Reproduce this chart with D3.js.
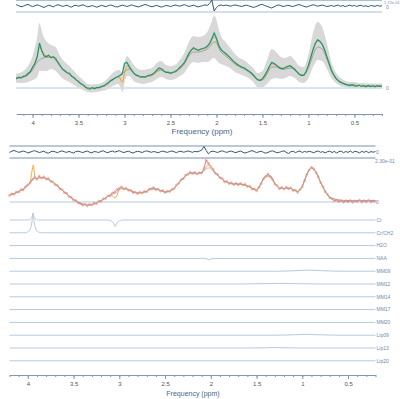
<!DOCTYPE html>
<html>
<head>
<meta charset="utf-8">
<script src="https://cdn.jsdelivr.net/npm/d3@7/dist/d3.min.js"></script>
<style>
  body { margin: 0; background: #fff; }
  svg { display: block; font-family: "Liberation Sans", Arial, sans-serif; }
</style>
</head>
<body>
<div id="chart"></div>
<script>
const width = 400,
    height = 399;

// measured spectra + residuals, 0.025 ppm grid
const ppm = [
  4.2, 4.175, 4.15, 4.125, 4.1, 4.075, 4.05, 4.025, 4.0, 3.975,
  3.95, 3.925, 3.9, 3.875, 3.85, 3.825, 3.8, 3.775, 3.75, 3.725,
  3.7, 3.675, 3.65, 3.625, 3.6, 3.575, 3.55, 3.525, 3.5, 3.475,
  3.45, 3.425, 3.4, 3.375, 3.35, 3.325, 3.3, 3.275, 3.25, 3.225,
  3.2, 3.175, 3.15, 3.125, 3.1, 3.075, 3.05, 3.025, 3.0, 2.975,
  2.95, 2.925, 2.9, 2.875, 2.85, 2.825, 2.8, 2.775, 2.75, 2.725,
  2.7, 2.675, 2.65, 2.625, 2.6, 2.575, 2.55, 2.525, 2.5, 2.475,
  2.45, 2.425, 2.4, 2.375, 2.35, 2.325, 2.3, 2.275, 2.25, 2.225,
  2.2, 2.175, 2.15, 2.125, 2.1, 2.075, 2.05, 2.025, 2.0, 1.975,
  1.95, 1.925, 1.9, 1.875, 1.85, 1.825, 1.8, 1.775, 1.75, 1.725,
  1.7, 1.675, 1.65, 1.625, 1.6, 1.575, 1.55, 1.525, 1.5, 1.475,
  1.45, 1.425, 1.4, 1.375, 1.35, 1.325, 1.3, 1.275, 1.25, 1.225,
  1.2, 1.175, 1.15, 1.125, 1.1, 1.075, 1.05, 1.025, 1.0, 0.975,
  0.95, 0.925, 0.9, 0.875, 0.85, 0.825, 0.8, 0.775, 0.75, 0.725,
  0.7, 0.675, 0.65, 0.625, 0.6, 0.575, 0.55, 0.525, 0.5, 0.475,
  0.45, 0.425, 0.4, 0.375, 0.35, 0.325, 0.3, 0.275, 0.25, 0.225,
  0.2
];

const dataTop = [
  10.5, 9.5, 10.8, 10.2, 11.6, 12.1, 14.5, 16.2, 20.8, 24.5,
  31.0, 45.0, 37.5, 32.0, 31.5, 32.8, 30.2, 31.4, 29.6, 25.8,
  22.4, 18.9, 17.3, 15.2, 14.6, 11.8, 10.4, 8.1, 6.5, 4.2,
  3.1, 0.8, -0.5, -1.2, 0.4, -0.8, 0.6, 0.2, 1.5, 2.1,
  3.8, 5.2, 7.4, 8.6, 10.3, 11.2, 12.5, 14.0, 24.5, 25.8,
  21.6, 18.2, 14.8, 12.9, 12.1, 10.8, 11.4, 11.0, 12.3, 12.8,
  13.6, 15.4, 17.8, 20.1, 19.2, 17.0, 15.6, 15.9, 14.7, 15.8,
  16.4, 18.1, 20.5, 22.6, 25.3, 29.8, 34.6, 37.9, 40.2, 39.1,
  37.6, 38.8, 39.5, 40.3, 41.8, 44.6, 49.5, 55.0, 49.8, 42.5,
  38.6, 36.2, 34.5, 32.4, 30.1, 27.6, 25.4, 23.8, 22.2, 21.0,
  20.3, 18.6, 17.1, 15.3, 13.2, 10.4, 8.2, 7.5, 9.4, 12.6,
  16.8, 21.5, 25.4, 24.6, 22.8, 21.1, 19.6, 19.2, 20.4, 21.8,
  22.3, 20.6, 18.7, 16.2, 13.8, 12.5, 12.9, 16.4, 22.6, 30.5,
  38.4, 44.8, 48.1, 46.9, 43.5, 38.2, 31.4, 24.6, 17.8, 13.2,
  9.6, 7.4, 5.6, 4.8, 3.6, 3.1, 2.4, 3.3, 2.2, 1.8,
  2.9, 1.6, 2.4, 1.2, 2.6, 1.5, 2.2, 1.1, 2.4, 1.7,
  2.0
];

const residTop = [
  0.5, 1.2, 0.3, -0.8, -0.2, 0.9, 1.6, 0.4, -0.6, 0.2,
  1.1, 0.5, -0.7, -1.4, -0.3, 0.8, 0.1, -0.9, 0.4, 1.3,
  0.6, -0.4, 0.2, 0.9, -0.5, -1.1, 0.3, 0.7, -0.2, 0.6,
  1.2, 0.1, -0.8, -0.3, 0.5, -0.4, -1.2, -0.2, 0.6, 0.0,
  -0.7, 0.4, 1.0, 0.2, -0.6, -1.0, 0.1, 0.8, 0.3, -0.5,
  0.2, 1.1, 0.4, -0.3, -0.9, -0.1, 0.7, 1.5, 0.8, -0.2,
  -0.8, 0.0, 0.6, -0.3, -1.1, -0.4, 0.5, 0.2, -0.6, 0.3,
  1.0, 0.4, -0.2, 0.6, 1.3, 0.5, -0.4, 0.1, 0.8, -0.1,
  -0.9, -0.3, 0.4, 1.2, 0.5, 2.5, 6.0, -5.0, -1.5, 0.6,
  1.0, 0.3, 0.9, 0.5, -0.2, 0.4, 1.1, 0.6, 0.0, -0.5,
  0.3, 0.8, 0.2, -0.6, -1.4, -0.8, 0.2, 1.2, 1.6, 0.5,
  -0.4, -1.2, -2.0, -0.9, 0.4, 1.1, 0.3, -0.5, 0.0, 0.7,
  0.2, -0.6, 0.1, 0.9, 1.4, 0.6, -0.3, -1.0, -0.4, 0.5,
  1.2, 0.7, -0.2, 0.4, 0.9, 0.3, -0.5, -0.1, 0.6, -0.4,
  0.3, 0.8, -0.3, 0.5, -0.6, 0.2, 0.9, -0.2, 0.6, -0.5,
  0.4, 0.7, -0.4, 0.3, -0.7, 0.5, 0.1, -0.3, 0.6, -0.2,
  0.3
];

const dataBot = [
  6.5, 8.2, 7.6, 10.1, 9.8, 12.5, 12.0, 15.3, 17.2, 19.0,
  22.4, 24.8, 22.6, 25.9, 23.8, 25.2, 22.9, 23.4, 20.6, 20.1,
  17.2, 16.5, 13.1, 12.4, 9.3, 8.8, 5.4, 4.9, 1.8, 1.5,
  -0.9, -1.6, -3.2, -2.1, -3.9, -2.4, -3.1, -1.0, -1.8, 0.9,
  0.6, 3.2, 3.5, 6.1, 6.2, 9.0, 9.8, 12.4, 13.6, 15.1,
  13.0, 13.9, 11.6, 11.5, 9.3, 9.8, 8.4, 9.9, 9.0, 10.6,
  10.2, 12.8, 13.2, 14.5, 12.3, 12.9, 10.8, 11.6, 9.5, 10.8,
  10.4, 12.5, 13.4, 17.1, 18.6, 22.4, 23.3, 27.0, 27.6, 29.8,
  28.4, 29.6, 27.9, 29.3, 29.0, 33.5, 42.0, 38.6, 35.2, 33.1,
  28.7, 27.5, 24.2, 23.4, 20.1, 20.6, 18.2, 19.3, 17.4, 18.8,
  17.1, 18.6, 16.9, 17.8, 15.4, 15.9, 12.8, 13.1, 11.2, 14.6,
  18.3, 23.0, 25.4, 28.1, 25.2, 22.3, 17.8, 16.4, 13.2, 14.6,
  12.8, 14.9, 13.1, 14.2, 11.4, 11.8, 9.6, 12.4, 15.2, 21.3,
  27.4, 32.1, 34.6, 33.2, 29.5, 25.1, 19.4, 15.2, 10.3, 7.6,
  4.1, 3.3, 1.2, 1.8, 0.4, 1.5, -0.2, 1.3, 0.1, 1.6,
  -0.3, 1.2, 0.5, 1.8, -0.1, 1.4, 0.2, 1.7, 0.0, 1.1,
  0.6
];

const residBot = [
  -0.4, 0.8, 1.5, 0.6, -0.3, 0.2, 1.0, 0.3, -0.9, -0.2,
  0.7, 1.3, 0.4, -0.5, 0.1, 0.9, -0.6, -1.2, 0.2, 0.8,
  0.1, -0.7, 0.5, 1.1, 0.2, -0.4, 0.6, -0.3, -1.0, 0.4,
  0.9, 0.2, -0.6, 0.3, 1.0, -0.2, -0.8, 0.5, 0.1, -0.5,
  0.6, 1.2, 0.0, -0.7, 0.4, 0.9, -0.1, 0.6, 1.3, 0.2,
  -0.6, 0.3, 0.8, -0.2, -1.1, 0.1, 0.7, 0.2, -0.5, 0.6,
  1.1, 0.4, -0.3, 0.5, 0.0, -0.8, 0.3, 0.9, 0.2, -0.4,
  0.5, 1.0, 0.2, -0.6, 0.4, 0.8, -0.2, 0.3, 1.1, 0.4,
  -0.3, 0.6, 0.2, 0.9, 1.8, 5.5, 1.5, -1.8, 0.4, 0.8,
  0.2, -0.5, 0.6, 1.2, 0.3, -0.4, 0.5, 0.9, 0.0, -0.7,
  0.4, 0.9, -0.2, -1.0, -0.3, 0.6, 1.4, 0.5, -0.6, 0.2,
  0.8, -0.3, -1.2, -0.4, 0.7, 1.1, 0.2, -0.8, -0.2, 0.5,
  1.2, -0.4, -1.5, 0.3, 0.8, -0.6, 0.4, 1.0, -0.5, 0.6,
  -0.2, 0.7, 0.1, -0.8, 0.5, 1.0, -0.3, 0.4, -0.9, 0.3,
  0.8, -0.5, 0.6, -1.0, 0.4, 0.9, -0.7, 0.5, -0.4, 1.0,
  -0.6, 0.7, 0.2, -0.9, 0.6, -0.3, 0.8, -0.7, 0.4, -0.2,
  0.5
];

// fitted curves, coarser grid (denser near the sharp peaks)
const ppmFit = [
  4.2, 4.15, 4.1, 4.05, 4.0,
  3.975, 3.95, 3.94, 3.925, 3.91, 3.9,
  3.85, 3.8, 3.75, 3.7, 3.65, 3.6, 3.55, 3.5, 3.45, 3.4, 3.35, 3.3, 3.25, 3.2, 3.15, 3.1,
  3.075, 3.05, 3.035, 3.02, 3.0, 2.975, 2.95,
  2.9, 2.85, 2.8, 2.75, 2.7, 2.65, 2.6, 2.55, 2.5, 2.45, 2.4, 2.35, 2.3, 2.25, 2.2, 2.15, 2.1,
  2.075, 2.05, 2.03, 2.01, 2.0, 1.975, 1.95,
  1.9, 1.85, 1.8, 1.75, 1.7, 1.65, 1.6, 1.55, 1.5, 1.45,
  1.4, 1.35, 1.3, 1.25, 1.2, 1.15, 1.1, 1.05, 1.0, 0.95,
  0.9, 0.85, 0.8, 0.75, 0.7, 0.65, 0.6, 0.55, 0.5, 0.45,
  0.4, 0.35, 0.3, 0.25, 0.2
];

const fitTop = [
  10, 10, 11, 14, 20,
  25, 31, 36, 41, 39, 37,
  32, 31, 29, 22, 17, 14, 10, 6, 3, 0, -0.5, 0, 1, 3, 7, 10,
  11, 10, 7, 6, 15, 22, 21,
  15, 12, 11, 12, 13, 17, 19, 16, 15, 16, 20, 25, 34, 39, 38, 39, 41,
  44, 48, 51, 50, 48, 42, 38,
  34, 30, 25, 22, 20, 17, 13, 8, 9, 16,
  24, 23, 20, 20, 22, 19, 14, 13, 22, 38,
  47, 44, 32, 18, 10, 6, 4, 3, 3, 2.5,
  2.5, 2, 2, 2, 2
];

const grayTop = [
  10, 10, 11, 13, 18,
  22, 26, 27, 28, 29, 29.5,
  30.5, 31, 28, 22, 17, 14, 10, 6, 3, 0.5, 0, 0.5, 1.5, 3.5, 7, 10,
  11.5, 13, 14, 15, 16.5, 18, 19,
  15, 12, 11, 11.5, 12.5, 16, 18, 16, 15, 16, 19, 24, 32, 36, 36, 37, 39,
  41, 44, 46, 46, 45, 40, 36,
  32, 28, 24, 21, 19, 16, 12, 8, 8, 14,
  21, 21, 19, 19, 20, 18, 14, 13, 20, 33,
  41, 39, 29, 17, 9, 5.5, 4, 3, 3, 2.5,
  2.5, 2, 2, 2, 2
];

// half width of the grey uncertainty band around fitTop
const bandTop = [
  4, 5, 6, 8, 12,
  16, 20, 23, 24, 22, 20,
  15, 12, 12, 10, 9, 8, 7, 6, 5, 4, 4, 4, 4, 5, 6, 7,
  7, 8, 9, 10, 10, 10, 9,
  8, 7, 7, 7, 7, 8, 8, 7, 7, 7, 8, 10, 12, 13, 13, 13, 15,
  17, 19, 21, 21, 20, 17, 14,
  12, 10, 9, 8, 8, 7, 7, 7, 8, 12,
  15, 13, 11, 10, 10, 9, 8, 8, 12, 17,
  19, 17, 13, 8, 5, 4, 3, 3, 3, 2.5,
  2.5, 2.5, 2.5, 2.5, 2.5
];

const fitBot = [
  7, 8.5, 10.5, 13, 16.5,
  20, 33, 37, 27, 23, 23.5,
  24.5, 23.5, 21.5, 18, 14, 10, 6, 2.5, 0, -2, -3, -2.5, -1, 1.5, 4, 7,
  6, 4, 5, 8, 13, 14, 13.5,
  12.5, 10.5, 9, 9.5, 10.5, 13, 13, 11.5, 10, 11, 14, 19, 24, 28, 29, 28.5, 29.5,
  32, 35, 37, 36.5, 35.5, 32, 29,
  25, 21, 19, 18, 18, 17.5, 16, 14, 12, 19,
  26, 26, 19, 14, 13.5, 14, 12.5, 10.5, 16, 28,
  34, 30, 20, 11, 5, 3, 2, 1.5, 1.5, 1.5,
  1.5, 1.5, 1.5, 1.5, 1.5
];

const grayBot = [
  7, 8.5, 10.5, 13, 16.5,
  19.5, 22, 23, 23.5, 23.5, 23.5,
  24.5, 23.5, 21.5, 18, 14, 10, 6, 2.5, 0, -2, -3, -2.5, -1, 1.5, 4, 7,
  8, 8.5, 9, 10, 12, 13, 13,
  12.5, 10.5, 9, 9.5, 10.5, 13, 13, 11.5, 10, 11, 14, 19, 24, 28, 29, 28.5, 29.5,
  31, 33, 34, 34, 33.5, 31, 28.5,
  25, 21, 19, 18, 18, 17.5, 16, 14, 12, 19,
  26, 26, 19, 14, 13.5, 14, 12.5, 10.5, 16, 28,
  34, 30, 20, 11, 5, 3, 2, 1.5, 1.5, 1.5,
  1.5, 1.5, 1.5, 1.5, 1.5
];

// individual fitted components
const compNames = ["Cr", "Cr/CH2", "H2O", "NAA", "MM09", "MM12", "MM14", "MM17", "MM20", "Lip09", "Lip13", "Lip20"];
const compPpm = [
  [4.2, 4.01, 3.98, 3.965, 3.953, 3.943, 3.933, 3.92, 3.905, 3.88, 3.13, 3.1, 3.08, 3.062, 3.045, 3.028, 3.01, 2.99, 2.96, 0.2],
  [4.2, 4.03, 4.0, 3.98, 3.965, 3.953, 3.943, 3.933, 3.92, 3.905, 3.88, 3.85, 0.2],
  [4.2, 0.2],
  [4.2, 2.08, 2.05, 2.03, 2.02, 2.01, 1.99, 1.96, 0.2],
  [4.2, 1.3, 1.1, 1.0, 0.9, 0.8, 0.65, 0.5, 0.2],
  [4.2, 1.7, 1.45, 1.25, 1.05, 0.8, 0.2],
  [4.2, 0.2],
  [4.2, 0.2],
  [4.2, 0.2],
  [4.2, 1.3, 1.1, 0.95, 0.8, 0.6, 0.2],
  [4.2, 1.6, 1.4, 1.3, 1.2, 1.0, 0.2],
  [4.2, 0.2]
];
const compVals = [
  [0, 0, 0.4, 1.3, 3.5, 7, 3.5, 1.3, 0.4, 0, 0, -0.5, -1.4, -3.2, -6.5, -3.2, -1.4, -0.5, 0, 0],
  [0, 0, 1, 2.5, 6, 12, 19, 12, 6, 2.5, 0.8, 0, 0],
  [0, 0],
  [0, 0, -0.3, -1, -1.3, -1, -0.3, 0, 0],
  [0, 0, 0.4, 0.9, 1.0, 0.6, 0.1, 0, 0],
  [0, 0, 0.3, 0.6, 0.3, 0, 0],
  [0, 0],
  [0, 0],
  [0, 0],
  [0, 0, 0.4, 0.8, 0.4, 0, 0],
  [0, 0, 0.2, 0.5, 0.2, 0, 0],
  [0, 0]
];

const majorTicks = [4, 3.5, 3, 2.5, 2, 1.5, 1, 0.5];

const svg = d3.select("#chart")
  .append("svg")
  .attr("width", width)
  .attr("height", height)
  .attr("viewBox", [0, 0, width, height]);

const pts = function(xs, ys) {
    return xs.map(function(p, i) { return { p: p, v: ys[i] } });
};

function drawAxis(g, x, y, titleX, titleY, titleSize) {
    var ax = g.append('g').attr('transform', 'translate(0,' + y + ')');
    ax.append('g')
        .call(d3.axisBottom(x).ticks(40).tickSize(2).tickSizeOuter(0).tickFormat(''))
        .call(function(s) { s.select('.domain').remove() });
    ax.append('g')
        .call(d3.axisBottom(x).tickValues(majorTicks).tickSize(4).tickSizeOuter(0)
            .tickFormat(function(d) { return d }));
    ax.selectAll('line, path').attr('stroke', '#7c97b1');
    ax.selectAll('text').attr('font-size', 6).attr('fill', '#555').attr('font-family', 'Liberation Sans, Arial, sans-serif');
    g.append('text')
        .attr('x', titleX).attr('y', titleY)
        .attr('text-anchor', 'middle')
        .attr('font-size', titleSize)
        .attr('fill', '#44668c')
        .text('Frequency (ppm)');
}

function hline(g, x0, x1, y, color) {
    g.append('line')
        .attr('x1', x0).attr('x2', x1)
        .attr('y1', y).attr('y2', y)
        .attr('stroke', color).attr('stroke-width', 1);
}

function sideLabel(g, x, y, txt, size) {
    g.append('text')
        .attr('x', x).attr('y', y)
        .attr('dominant-baseline', 'middle')
        .attr('font-size', size || 5)
        .attr('fill', '#6d8cab')
        .text(txt);
}

// ---------- top panel ----------
const xTop = d3.scaleLinear().domain([4.18, 0.2]).range([16, 382]);
const yTop = d3.scaleLinear().domain([0, 55]).range([88, 33]);
const yResTop = d3.scaleLinear().domain([-6, 6]).range([12, 0]);

const topG = svg.append('g');
topG.append('clipPath').attr('id', 'clipTop')
    .append('rect').attr('x', 16).attr('y', 0).attr('width', 366).attr('height', 110);

hline(topG, 16, 382, 0.5, '#a6c0d6');
hline(topG, 16, 382, 12, '#a6c0d6');
hline(topG, 16, 382, yTop(0), '#b3cade');

const plotTop = topG.append('g').attr('clip-path', 'url(#clipTop)');

plotTop.append('path')
    .datum(pts(ppm, residTop))
    .attr('fill', 'none')
    .attr('stroke', '#34536f')
    .attr('stroke-width', 1)
    .attr('d', d3.line().x(function(d) { return xTop(d.p) }).y(function(d) { return yResTop(d.v) }));

plotTop.append('path')
    .datum(ppmFit.map(function(p, i) { return { p: p, v: fitTop[i], w: bandTop[i] } }))
    .attr('fill', '#d8d8d8')
    .attr('d', d3.area()
        .x(function(d) { return xTop(d.p) })
        .y0(function(d) { return yTop(d.v - d.w) })
        .y1(function(d) { return yTop(d.v + d.w) })
        .curve(d3.curveMonotoneX));

plotTop.append('path')
    .datum(pts(ppmFit, grayTop))
    .attr('fill', 'none')
    .attr('stroke', '#8a8a8a')
    .attr('stroke-width', 0.7)
    .attr('d', d3.line().x(function(d) { return xTop(d.p) }).y(function(d) { return yTop(d.v) }).curve(d3.curveMonotoneX));

plotTop.append('path')
    .datum(pts(ppmFit, fitTop))
    .attr('fill', 'none')
    .attr('stroke', '#f1a83a')
    .attr('stroke-width', 1.1)
    .attr('d', d3.line().x(function(d) { return xTop(d.p) }).y(function(d) { return yTop(d.v) }).curve(d3.curveMonotoneX));

plotTop.append('path')
    .datum(pts(ppm, dataTop))
    .attr('fill', 'none')
    .attr('stroke', '#14987a')
    .attr('stroke-width', 1.2)
    .attr('d', d3.line().x(function(d) { return xTop(d.p) }).y(function(d) { return yTop(d.v) }));

sideLabel(topG, 384, 2.5, '1.72e-01', 4);
sideLabel(topG, 386, 7.5, '0');
sideLabel(topG, 386, 89, '0');

drawAxis(topG, xTop, 114, 202, 134, 8);

// ---------- bottom panel ----------
const xBot = d3.scaleLinear().domain([4.2, 0.2]).range([9.5, 375.5]);
const yBot = d3.scaleLinear().domain([0, 42]).range([202, 160]);
const yResBot = d3.scaleLinear().domain([-6, 6]).range([158, 146]);
const compY = d3.scalePoint().domain(compNames).range([220, 360.8]);

const botG = svg.append('g');

hline(botG, 9.5, 375.5, 146, '#7891ab');
hline(botG, 9.5, 375.5, 158, '#7891ab');
hline(botG, 9.5, 375.5, yBot(0), '#b3cade');

botG.append('path')
    .datum(pts(ppm, residBot))
    .attr('fill', 'none')
    .attr('stroke', '#2f5577')
    .attr('stroke-width', 1)
    .attr('d', d3.line().x(function(d) { return xBot(d.p) }).y(function(d) { return yResBot(d.v) }));

botG.append('path')
    .datum(pts(ppm, dataBot))
    .attr('fill', 'none')
    .attr('stroke', '#e2566c')
    .attr('stroke-width', 0.8)
    .attr('d', d3.line().x(function(d) { return xBot(d.p) }).y(function(d) { return yBot(d.v) }));

botG.selectAll('.pt')
    .data(pts(ppm, dataBot))
    .enter().append('circle')
    .attr('class', 'pt')
    .attr('cx', function(d) { return xBot(d.p) })
    .attr('cy', function(d) { return yBot(d.v) })
    .attr('r', 1)
    .attr('fill', 'none')
    .attr('stroke', '#e8798a')
    .attr('stroke-width', 0.5);

botG.append('path')
    .datum(pts(ppmFit, fitBot))
    .attr('fill', 'none')
    .attr('stroke', '#f2aa3c')
    .attr('stroke-width', 1)
    .attr('d', d3.line().x(function(d) { return xBot(d.p) }).y(function(d) { return yBot(d.v) }).curve(d3.curveMonotoneX));

botG.append('path')
    .datum(pts(ppmFit, grayBot))
    .attr('fill', 'none')
    .attr('stroke', '#8ea0b3')
    .attr('stroke-width', 0.6)
    .attr('d', d3.line().x(function(d) { return xBot(d.p) }).y(function(d) { return yBot(d.v) }).curve(d3.curveMonotoneX));

sideLabel(botG, 376, 153, '0');
sideLabel(botG, 375, 161.5, '2.30e-01');
sideLabel(botG, 376, 202.5, '0');

// component traces
compNames.forEach(function(name, k) {
    var base = compY(name);
    var yc = d3.scaleLinear().domain([0, 1]).range([base, base - 1]);
    botG.append('path')
        .datum(pts(compPpm[k], compVals[k]))
        .attr('fill', 'none')
        .attr('stroke', '#b5cadd')
        .attr('stroke-width', 1)
        .attr('d', d3.line().x(function(d) { return xBot(d.p) }).y(function(d) { return yc(d.v) }).curve(d3.curveMonotoneX));
    sideLabel(botG, 376.5, base + 0.5, name);
});

drawAxis(botG, xBot, 375, 193, 395.5, 7);
</script>
</body>
</html>
